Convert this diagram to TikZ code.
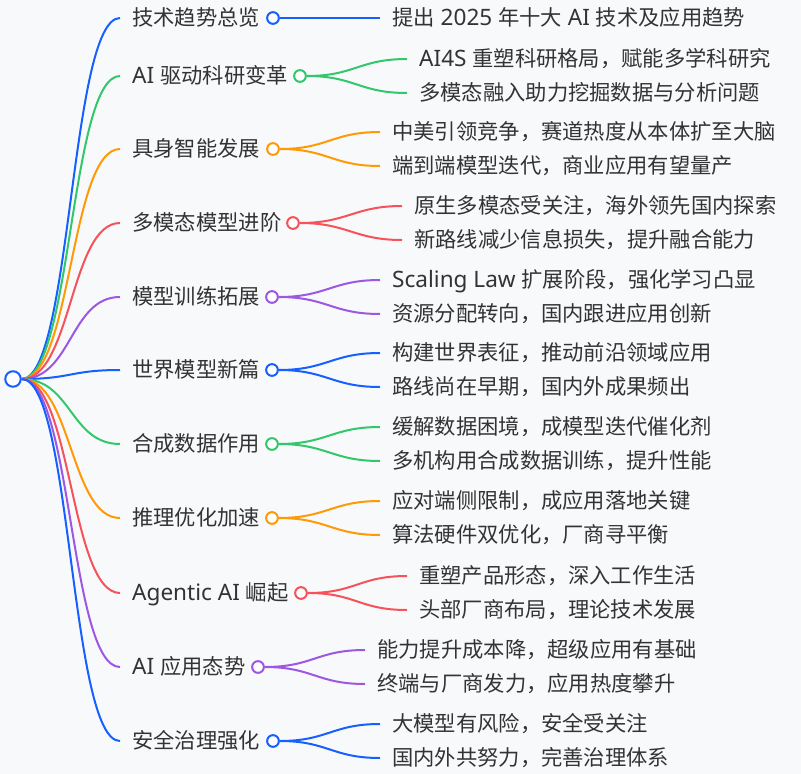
\documentclass[tikz,border=0pt]{standalone}
\usepackage{fontspec}
\setmainfont{Noto Sans CJK SC}
\newfontfamily\latfont[Scale=1.06]{Noto Sans}
\newcommand\mylat[1]{{\latfont #1}}
\definecolor{bg}{HTML}{F8F9FB}
\definecolor{cblue}{HTML}{1560FF}
\definecolor{cgreen}{HTML}{33C76B}
\definecolor{corange}{HTML}{FF9A05}
\definecolor{cred}{HTML}{F5525A}
\definecolor{cpurple}{HTML}{9C57E3}
\definecolor{txt}{HTML}{333333}
\tikzset{
  lbl/.style={anchor=base west, inner sep=0pt, text=txt, font=\fontsize{21.3}{22}\selectfont},
  dot/.style={circle, draw=#1, line width=2pt, fill=white, minimum size=11.7pt, inner sep=0pt},
  link/.style={draw=#1, line width=2pt},
}
\begin{document}
\begin{tikzpicture}[x=1pt,y=-1pt]
\fill[bg] (0,0) rectangle (801,774);
\useasboundingbox (0,0) rectangle (801,774);
\node[dot=cblue, minimum size=15.5pt] (root) at (13,379) {};
% branch 1 (single child)
\coordinate (e1) at (120,18);
\node[lbl] (t1) at (132,25.5) {技术趋势总览};
\node[dot=cblue] (c1) at (273,18) {};
\draw[link=cblue] (root.east) .. controls +(50,0) and +(-50,0) .. (e1);
\coordinate (a1) at (380,18);
\node[lbl] (ta1) at (392,25.5) {提出\mylat{ 2025 }年十大\mylat{ AI }技术及应用趋势};
\draw[link=cblue] (c1.east) -- (a1);
\foreach \i/\y/\cx/\col/\len/\lab/\ca/\cb in {
 2/76/300/cgreen/107/{\mylat{AI }驱动科研变革}/{\mylat{AI4S }重塑科研格局，赋能多学科研究}/{多模态融入助力挖掘数据与分析问题},
 3/149/273/corange/107/{具身智能发展}/{中美引领竞争，赛道热度从本体扩至大脑}/{端到端模型迭代，商业应用有望量产},
 4/223/293/cred/109/{多模态模型进阶}/{原生多模态受关注，海外领先国内探索}/{新路线减少信息损失，提升融合能力},
 5/297/272/cpurple/108/{模型训练拓展}/{\mylat{Scaling Law }扩展阶段，强化学习凸显}/{资源分配转向，国内跟进应用创新},
 6/370/272/cblue/108/{世界模型新篇}/{构建世界表征，推动前沿领域应用}/{路线尚在早期，国内外成果频出},
 7/444/272/cgreen/108/{合成数据作用}/{缓解数据困境，成模型迭代催化剂}/{多机构用合成数据训练，提升性能},
 8/518/272/corange/108/{推理优化加速}/{应对端侧限制，成应用落地关键}/{算法硬件双优化，厂商寻平衡},
 9/593/301/cred/106/{\mylat{Agentic AI }崛起}/{重塑产品形态，深入工作生活}/{头部厂商布局，理论技术发展},
 10/667/258/cpurple/107/{\mylat{AI }应用态势}/{能力提升成本降，超级应用有基础}/{终端与厂商发力，应用热度攀升},
 11/741/273/cblue/107/{安全治理强化}/{大模型有风险，安全受关注}/{国内外共努力，完善治理体系}}
{
  \coordinate (e\i) at (120,\y);
  \node[lbl] (t\i) at (132,\y+7.5) {\lab};
  \node[dot=\col] (c\i) at (\cx,\y) {};
  \draw[link=\col] (root.east) .. controls +(50,0) and +(-50,0) .. (e\i);
  \coordinate (a\i) at (\cx+\len,\y-17);
  \coordinate (b\i) at (\cx+\len,\y+17);
  \node[lbl] (ta\i) at (\cx+\len+12,\y-9.5) {\ca};
  \node[lbl] (tb\i) at (\cx+\len+12,\y+24.5) {\cb};
  \draw[link=\col] (c\i.east) .. controls +(48,0) and +(-48,0) .. (a\i);
  \draw[link=\col] (c\i.east) .. controls +(48,0) and +(-48,0) .. (b\i);
}
\end{tikzpicture}
\end{document}
